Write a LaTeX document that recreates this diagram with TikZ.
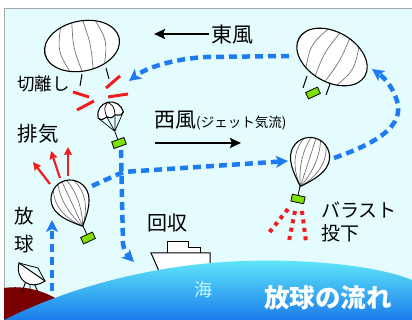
\documentclass[tikz,border=0pt]{standalone}
\usepackage{fontspec}
\setmainfont{Noto Sans CJK JP}
\usetikzlibrary{arrows.meta}
\definecolor{bg}{HTML}{E4FCFE}
\definecolor{routeblue}{HTML}{1E7CF2}
\definecolor{alertred}{HTML}{F01E1E}
\definecolor{pay}{HTML}{7EE000}
\definecolor{land}{HTML}{7A0000}
\definecolor{seatop}{HTML}{62ECFA}
\definecolor{seabot}{HTML}{1A7CEC}
\definecolor{seatext}{HTML}{C8F8FF}

\tikzset{
  outl/.style={draw=black, line width=1.1pt},
  stripe/.style={draw=gray!85!black, line width=0.65pt},
  gbox/.style={draw=black, line width=0.8pt, fill=pay, minimum width=13pt,
    minimum height=7pt, inner sep=0pt},
  route/.style={draw=routeblue, line width=4.5pt, dash pattern=on 8pt off 5pt,
    -{Stealth[length=12pt,width=12pt,inset=3pt]}},
  wind/.style={draw=black, line width=2.2pt, -{Stealth[length=11pt,width=10pt,inset=2pt]}},
  exhaust/.style={draw=alertred, line width=2.2pt, -{Stealth[length=8pt,width=8pt,inset=1pt]}},
  cutmark/.style={draw=alertred, line width=3pt},
  ballastdots/.style={draw=alertred, line width=4pt, dash pattern=on 4pt off 4.5pt},
  lbl/.style={inner sep=0pt, text=black},
  bigballoon/.pic={
    \fill[white] (0,0) ellipse[x radius=38, y radius=25];
    \begin{scope}
      \clip (0,0) ellipse[x radius=38, y radius=25];
      \foreach \c/\b in {-27/-14,-16/-9,-5/-4,6/3,17/9,28/14}
        \draw[stripe] (\c,-26) .. controls (\c+\b,0) .. (\c,26);
    \end{scope}
    \draw[outl] (0,0) ellipse[x radius=38, y radius=25];
  },
  teardrop/.pic={
    \fill[white] (0,30) .. controls (-6,24) and (-19,12) .. (-19,0)
      arc[start angle=180, end angle=360, radius=19]
      .. controls (19,12) and (6,24) .. (0,30) -- cycle;
    \begin{scope}
      \clip (0,30) .. controls (-6,24) and (-19,12) .. (-19,0)
        arc[start angle=180, end angle=360, radius=19]
        .. controls (19,12) and (6,24) .. (0,30) -- cycle;
      \foreach \k in {-14,-7,0,7,14}
        \draw[stripe] (0,30) .. controls (1.4*\k,8) and (1.1*\k,-12) .. (0.5*\k,-22);
    \end{scope}
    \draw[outl] (0,30) .. controls (-6,24) and (-19,12) .. (-19,0)
      arc[start angle=180, end angle=360, radius=19]
      .. controls (19,12) and (6,24) .. (0,30) -- cycle;
  },
  chute/.pic={
    \draw[outl, fill=white] (-13,3) arc[start angle=180, end angle=360, radius=13]
      .. controls (10,6) .. (4.3,4) .. controls (0,6.5) .. (-4.3,4)
      .. controls (-10,6) .. (-13,3) -- cycle;
    \draw[black, line width=0.7pt] (-4.3,4) .. controls (-5,-5) .. (0,-10)
      (4.3,4) .. controls (5,-5) .. (0,-10);
    \draw[black, line width=0.7pt] (-13,3) -- (0,20) (-4.3,4) -- (0,20)
      (4.3,4) -- (0,20) (13,3) -- (0,20);
  }
}

\begin{document}
\begin{tikzpicture}[x=1pt, y=-1pt]
\useasboundingbox (0,0) rectangle (412,320);
\fill[white] (0,0) rectangle (412,320);
\fill[bg] (4,9) rectangle (412,320);
\draw[gray!70, line width=1pt] (4,320) -- (4,9) -- (412,9);

% ground station hill and dish
\fill[land] (4,288) .. controls (25,285) and (45,291) .. (62,302) -- (62,320) -- (4,320) -- cycle;
\draw[black, line width=0.9pt] (26,281) -- (22,292) (34,283) -- (38,292) (30,283) -- (30,290);
\draw[black, line width=1pt, fill=white] (19,263) .. controls (15,280) and (30,291) .. (45,281) -- cycle;
\draw[black, line width=0.8pt] (19,263) -- (38,268) -- (45,281);

% recovery ship
\draw[black, line width=1pt, fill=white] (167,253) -- (167,242) -- (188,242) -- (188,248) -- (200,248) -- (200,253);
\draw[black, line width=1pt, fill=white] (151,253) -- (210,253) -- (210,280) -- (163,280) -- cycle;

% sea
\shade[top color=seatop, bottom color=seabot]
  (4,320) .. controls (80,282) and (180,257) .. (290,261)
  .. controls (350,263) and (390,271) .. (412,280) -- (412,320) -- cycle;

% text labels
\node[lbl, font=\fontsize{17.5}{18}\selectfont] (tcut) at (43.5,84) {切離し};
\node[lbl, font=\fontsize{20.5}{21}\selectfont] (texh) at (38,134) {排気};
\node[lbl, font=\fontsize{21}{21}\selectfont] (teast) at (232,35) {東風};
\node[lbl, anchor=base west] (twest) at (154,128)
  {\fontsize{21}{21}\selectfont 西風\fontsize{13.5}{14}\selectfont(ジェット気流)};
\node[lbl, font=\fontsize{19.5}{28}\selectfont, align=center] (tlaunch) at (24,230) {放\\球};
\node[lbl, font=\fontsize{20}{20}\selectfont] (trec) at (167,223) {回収};
\node[lbl, font=\fontsize{19}{22.5}\selectfont, align=left, anchor=north west] (tball) at (321,202) {バラスト\\投下};
\node[lbl, text=seatext, font=\fontsize{18}{18}\selectfont] (tsea) at (203,290) {海};
\node[lbl, text=white, font=\fontsize{25.5}{26}\bfseries\selectfont] (ttitle) at (328,298) {放球の流れ};

% wind arrows
\coordinate (e1) at (209,34);
\coordinate (e2) at (154,34);
\draw[wind] (e1) -- (e2);
\coordinate (w1) at (155,143);
\coordinate (w2) at (241,143);
\draw[wind] (w1) -- (w2);

% flight route
\coordinate (r0) at (52,291);
\coordinate (r1) at (52,220);
\draw[route] (r0) -- (r1);
\coordinate (r2) at (92,186);
\coordinate (r3) at (123,172);
\coordinate (r4) at (288,161);
\draw[route, rounded corners=6pt] (r2) -- (r3) -- (r4);
\coordinate (r5) at (334,158);
\coordinate (r6) at (372,69);
\draw[route] (r5) .. controls (380,142) and (404,125) .. (397,101) .. controls (393,88) and (386,79) .. (r6);
\coordinate (r7) at (289,56);
\coordinate (r8) at (206,57);
\coordinate (r9) at (129,81);
\draw[route] (r7) -- (r8) .. controls (172,59) and (146,68) .. (r9);
\coordinate (r10) at (121,150);
\coordinate (r11) at (134,262);
\draw[route] (r10) -- (123,244) .. controls (124,251) and (128,256) .. (r11);

% separated balloon and cut marks
\draw[black, line width=1pt] (82,74) -- (80,86) (106,68) -- (109,79);
\pic[rotate=12] (bal1) at (82,46) {bigballoon};
\draw[cutmark] (73,92) -- (89,97) (77,110) -- (94,101) (106,88) -- (120,76) (108,97) -- (128,94);

% parachute with payload
\draw[black, line width=0.8pt] (115,132) -- (118,140);
\pic[rotate=14] (para) at (110,112) {chute};
\node[gbox, rotate=20] (box1) at (119,143) {};

% balloon drifting east
\draw[black, line width=1pt] (307,76) -- (303,88) (330,84) -- (326,95);
\pic[rotate=-30] (bal2) at (332,57) {bigballoon};
\node[gbox, rotate=25] (box2) at (313,93) {};

% balloon dropping ballast
\draw[black, line width=0.8pt] (300,186) -- (298,196);
\pic[rotate=-18, scale=1.03] (bal3) at (310,157) {teardrop};
\node[gbox, rotate=-12] (box3) at (298,199) {};
\draw[ballastdots] (288,209) -- (268,234) (295,211) -- (289,241) (302,211) -- (306,242);

% balloon at launch with exhaust
\draw[black, line width=0.8pt] (83,226) -- (87,235);
\pic[rotate=25] (bal4) at (70,199) {teardrop};
\node[gbox, rotate=25] (box4) at (88,238) {};
\draw[exhaust] (50,184) -- (33,162);
\draw[exhaust] (60,178) -- (51,151);
\draw[exhaust] (68,176) -- (68,147);
\end{tikzpicture}
\end{document}
